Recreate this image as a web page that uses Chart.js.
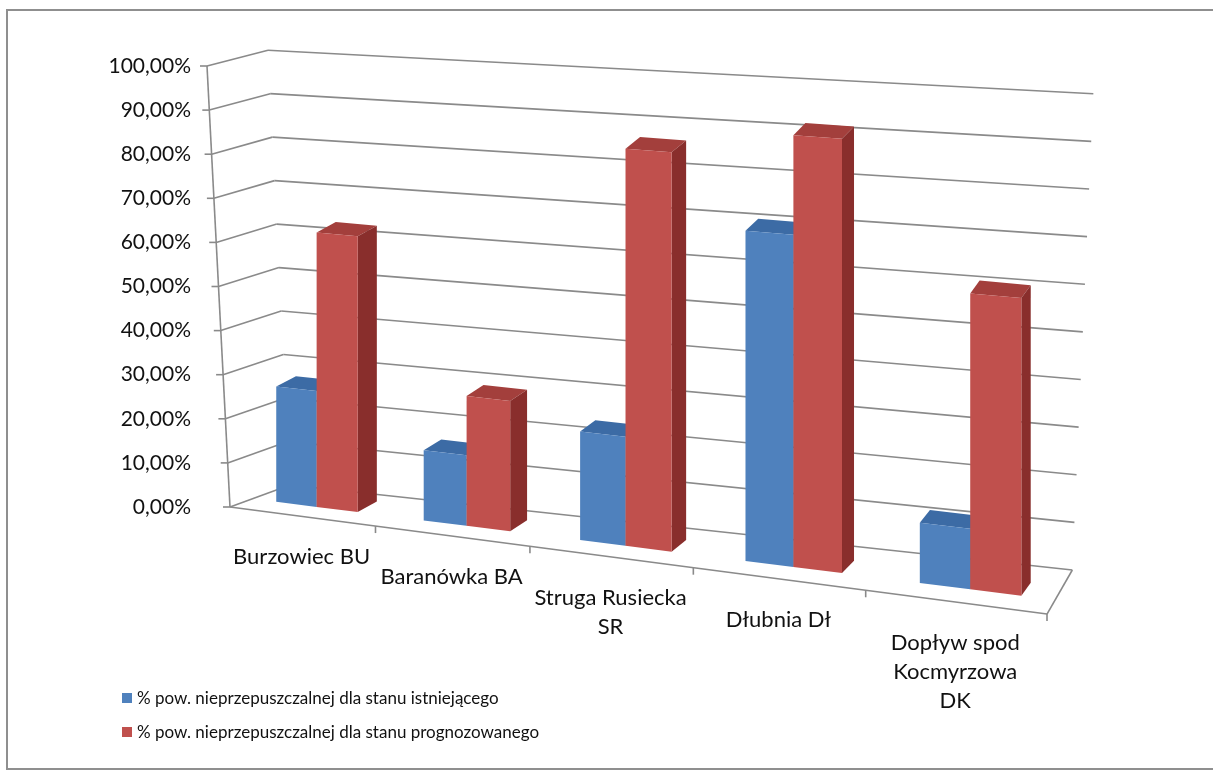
<!DOCTYPE html>
<html lang="pl">
<head>
<meta charset="utf-8">
<script src="https://cdn.jsdelivr.net/npm/chart.js@4.4.1/dist/chart.umd.min.js"></script>
<style>
    html, body { margin: 0; padding: 0; background: #fff; }
    #wrap { position: relative; width: 1213px; height: 771px; }
</style>
</head>
<body>
<div id="wrap"><canvas id="chart"></canvas></div>
<script>

// ================= DANE =================

const kategorie = [
    ["Burzowiec BU"],
    ["Baranówka BA"],
    ["Struga Rusiecka", "SR"],
    ["Dłubnia Dł"],
    ["Dopływ spod", "Kocmyrzowa", "DK"]
];

const stanIstniejacy = [26, 15.5, 23.5, 70, 12.5];
const stanPrognozowany = [61.5, 28.5, 85.5, 91, 61];

const etykietySerii = [
    "% pow. nieprzepuszczalnej dla stanu istniejącego",
    "% pow. nieprzepuszczalnej dla stanu prognozowanego"
];

const osMin = 0;
const osMax = 100;
const osKrok = 10;

// ================= STYL =================

const kolory = [
    { front: "#4F81BD", top: "#3C6BA5", side: "#2E5A8E" },
    { front: "#C0504D", top: "#A33F3C", side: "#892E2C" }
];

const kolorLinii = "#8a8a8a";
const kolorTekstu = "#111111";

Chart.defaults.font.family = "Lato, 'Open Sans', sans-serif";

// prosty "rzut" 3D: perspektywa w poziomie, spadek podłogi w prawo
function geometria(chart) {

    const area = chart.chartArea;
    const y = chart.scales.y;
    const W = area.right - area.left;
    const y0 = y.getPixelForValue(osMin);
    const H = y0 - y.getPixelForValue(osMax);

    const t = x => (x - area.left) / W;
    const px = x => area.left + W * (0.863 * t(x) + 0.137 * t(x) * t(x));
    const yPrzod = x => y0 + 0.131 * (x - area.left);
    const yPodstawa = x => y0 - 11 + 0.126 * (x - area.left);
    const skala = x => 1 + 0.11 * t(x);

    return { area, W, y0, H, t, px, yPrzod, yPodstawa, skala };

}

function wielokat(ctx, pkt, kolor) {

    ctx.beginPath();
    ctx.moveTo(pkt[0][0], pkt[0][1]);
    for (let i = 1; i < pkt.length; i++) ctx.lineTo(pkt[i][0], pkt[i][1]);
    ctx.closePath();
    ctx.fillStyle = kolor;
    ctx.fill();

}

function linia(ctx, x1, y1, x2, y2) {

    ctx.beginPath();
    ctx.moveTo(x1, y1);
    ctx.lineTo(x2, y2);
    ctx.stroke();

}

const wykres3d = {

    id: "wykres3d",

    beforeDraw(chart) {

        // ramka obrazka (bez prawej krawędzi)
        const ctx = chart.ctx;
        ctx.save();
        ctx.strokeStyle = "#8f8f8f";
        ctx.lineWidth = 2;
        ctx.beginPath();
        ctx.moveTo(chart.width, 10);
        ctx.lineTo(7, 10);
        ctx.lineTo(7, 769);
        ctx.lineTo(chart.width, 769);
        ctx.stroke();
        ctx.restore();

    },

    beforeDatasetsDraw(chart) {

        const ctx = chart.ctx;
        const g = geometria(chart);
        const { area, W, y0, H } = g;
        const ys = chart.scales.y;
        const xs = chart.scales.x;

        ctx.save();
        ctx.strokeStyle = kolorLinii;
        ctx.lineWidth = 1.6;

        // siatka: ściana boczna + tylna
        for (let v = osMin; v <= osMax; v += osKrok) {

            const f = (y0 - ys.getPixelForValue(v)) / H;
            const ax = area.left - 23 * f;
            const ay = ys.getPixelForValue(v);
            const lx = area.left + 60 - 22 * f;
            const ly = y0 - 22 - 0.986 * H * f;
            const rx = area.left + W * 1.031 + 21 * f;
            const ry = y0 + 63 - 1.08 * H * f;

            linia(ctx, ax - 7, ay, ax, ay);
            linia(ctx, ax, ay, lx, ly);
            linia(ctx, lx, ly, rx, ry);

        }

        // oś Y
        linia(ctx, area.left - 23, ys.getPixelForValue(osMax), area.left, y0);

        // podłoga
        const prawyX = area.right;
        linia(ctx, area.left, y0, prawyX, g.yPrzod(prawyX));
        linia(ctx, prawyX, g.yPrzod(prawyX), area.left + W * 1.031, y0 + 63);

        // znaczniki osi X
        const szer = W / kategorie.length;
        for (let i = 1; i <= kategorie.length; i++) {
            const x = g.px(xs.getPixelForValue(0) - szer / 2 + i * szer);
            const y = g.yPrzod(x);
            linia(ctx, x, y, x, y + 7);
        }

        ctx.restore();

        // słupki 3D, od lewej do prawej
        const metas = chart.data.datasets.map((d, i) => chart.getDatasetMeta(i));

        for (let k = 0; k < kategorie.length; k++) {

            metas.forEach((meta, s) => {

                const el = meta.data[k];
                const kol = kolory[s];
                const xl = g.px(el.x - el.width / 2) + 15;
                const xr = g.px(el.x + el.width / 2) + 15;
                const h = el.base - el.y;

                const bl = g.yPodstawa(xl), br = g.yPodstawa(xr);
                const tl = bl - h * g.skala(xl), tr = br - h * g.skala(xr);
                const dx = 21 - 12 * g.t(xr);
                const dy = -10 - 3 * g.t(xr);

                wielokat(ctx, [[xl, tl], [xr, tr], [xr + dx, tr + dy], [xl + dx, tl + dy]], kol.top);
                wielokat(ctx, [[xr, br], [xr, tr], [xr + dx, tr + dy], [xr + dx, br + dy]], kol.side);
                wielokat(ctx, [[xl, bl], [xr, br], [xr, tr], [xl, tl]], kol.front);

            });

        }

        return false;

    },

    afterDraw(chart) {

        const ctx = chart.ctx;
        const g = geometria(chart);
        const xs = chart.scales.x;

        ctx.save();
        ctx.fillStyle = kolorTekstu;
        ctx.textAlign = "center";
        ctx.textBaseline = "middle";
        ctx.font = "22px Lato, 'Open Sans', sans-serif";

        kategorie.forEach((linie, i) => {

            const cx = g.px(xs.getPixelForValue(i));
            const cy = g.yPrzod(cx) + 41;
            linie.forEach((txt, j) => ctx.fillText(txt, cx, cy + j * 29));

        });

        // legenda
        ctx.textAlign = "left";
        ctx.font = "17px Lato, 'Open Sans', sans-serif";

        chart.data.datasets.forEach((d, i) => {

            const cy = 698 + i * 34;
            ctx.fillStyle = d.backgroundColor;
            ctx.fillRect(122, cy - 5, 10, 10);
            ctx.fillStyle = kolorTekstu;
            ctx.fillText(d.label, 137, cy + 1);

        });

        ctx.restore();

    }

};

new Chart(
    document.getElementById("chart"),
    {
        type: "bar",
        data: {
            labels: kategorie,
            datasets: [
                {
                    label: etykietySerii[0],
                    data: stanIstniejacy,
                    backgroundColor: kolory[0].front,
                    categoryPercentage: 0.56,
                    barPercentage: 1
                },
                {
                    label: etykietySerii[1],
                    data: stanPrognozowany,
                    backgroundColor: kolory[1].front,
                    categoryPercentage: 0.56,
                    barPercentage: 1
                }
            ]
        },
        options: {
            responsive: true,
            maintainAspectRatio: false,
            animation: false,
            layout: {
                padding: { left: 0, right: 166, top: 66, bottom: 264 }
            },
            plugins: {
                legend: { display: false },
                tooltip: { enabled: false }
            },
            scales: {
                x: {
                    display: false,
                    offset: true
                },
                y: {
                    min: osMin,
                    max: osMax,
                    afterFit: s => { s.width = 230; },
                    grid: { display: false, drawTicks: false },
                    border: { display: false },
                    ticks: {
                        stepSize: osKrok,
                        padding: 39,
                        color: kolorTekstu,
                        font: { size: 21 },
                        callback: v => v.toFixed(2).replace(".", ",") + "%"
                    }
                }
            }
        },
        plugins: [wykres3d]
    }
);

</script>
</body>
</html>
